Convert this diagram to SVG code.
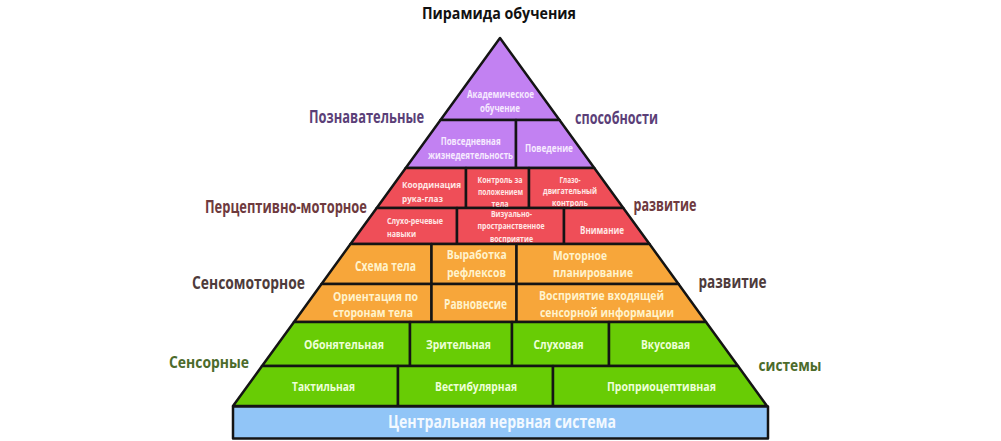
<svg xmlns="http://www.w3.org/2000/svg" width="1001" height="441" viewBox="0 0 1001 441">
<style>
.t{font-family:"Open Sans","Noto Sans","DejaVu Sans",sans-serif;font-weight:700;text-anchor:middle}
.l{text-anchor:start}
.e{text-anchor:end}
.c{stroke:#141414;stroke-width:2.5;stroke-linejoin:round}
.pu{fill:#c281f2}.re{fill:#ef4e58}.or{fill:#f7a63a}.gr{fill:#68cc05}.bl{fill:#91c5f7}
.tpu{fill:#f6eaff}.tre{fill:#ffe8e6}.tor{fill:#fff3cc}.tgr{fill:#edffd8}.tbl{fill:#f3f9ff}
.s1{fill:#5b3f78}.s2{fill:#6e3a3e}.s3{fill:#4e3b3b}.s4{fill:#4c6b2b}
</style>
<rect width="1001" height="441" fill="#ffffff"/>
<g id="title"><text class="t" x="499" y="19" font-size="16" fill="#111" textLength="154" lengthAdjust="spacingAndGlyphs">Пирамида обучения</text></g>
<g id="side-labels">
<text class="t e s1" x="424" y="123" font-size="17" textLength="115" lengthAdjust="spacingAndGlyphs">Познавательные</text>
<text class="t l s1" x="575" y="124" font-size="17" textLength="83" lengthAdjust="spacingAndGlyphs">способности</text>
<text class="t e s2" x="367" y="213" font-size="17" textLength="162" lengthAdjust="spacingAndGlyphs">Перцептивно-моторное</text>
<text class="t l s2" x="633.5" y="211" font-size="17" textLength="63" lengthAdjust="spacingAndGlyphs">развитие</text>
<text class="t e s3" x="305" y="289" font-size="17" textLength="113" lengthAdjust="spacingAndGlyphs">Сенсомоторное</text>
<text class="t l s3" x="698.5" y="288" font-size="17" textLength="68" lengthAdjust="spacingAndGlyphs">развитие</text>
<text class="t e s4" x="249" y="368" font-size="16" textLength="80" lengthAdjust="spacingAndGlyphs">Сенсорные</text>
<text class="t l s4" x="758.5" y="371" font-size="16" textLength="63" lengthAdjust="spacingAndGlyphs">системы</text>
</g>
<g id="n-academic"><polygon class="c pu" points="500,38 440.5,120 559.5,120"/>
<text class="t tpu" x="500.5" y="98" font-size="10" textLength="67" lengthAdjust="spacingAndGlyphs">Академическое</text>
<text class="t tpu" x="500" y="111.5" font-size="10" textLength="40" lengthAdjust="spacingAndGlyphs">обучение</text></g>
<g id="n-daily"><polygon class="c pu" points="440.5,120 516,120 516,168 405.7,168"/>
<text class="t tpu" x="470.7" y="145" font-size="10" textLength="60" lengthAdjust="spacingAndGlyphs">Повседневная</text>
<text class="t tpu" x="470.5" y="158.5" font-size="10" textLength="85" lengthAdjust="spacingAndGlyphs">жизнедеятельность</text></g>
<g id="n-behavior"><polygon class="c pu" points="516,120 559.5,120 594.3,168 516,168"/>
<text class="t tpu" x="549" y="151.5" font-size="10" textLength="48" lengthAdjust="spacingAndGlyphs">Поведение</text></g>
<g id="n-eyehand"><polygon class="c re" points="405.7,168 466,168 466,208 376.7,208"/>
<text class="t tre l" x="402" y="187.5" font-size="9.5" textLength="59" lengthAdjust="spacingAndGlyphs">Координация</text>
<text class="t tre l" x="402" y="202" font-size="9.5" textLength="41" lengthAdjust="spacingAndGlyphs">рука-глаз</text></g>
<g id="n-posture"><polygon class="c re" points="466,168 529,168 529,208 466,208"/>
<text class="t tre" x="500" y="183" font-size="8.5" textLength="45" lengthAdjust="spacingAndGlyphs">Контроль за</text>
<text class="t tre" x="500.5" y="195" font-size="8.5" textLength="45" lengthAdjust="spacingAndGlyphs">положением</text>
<text class="t tre" x="500" y="206.5" font-size="8.5" textLength="17" lengthAdjust="spacingAndGlyphs">тела</text></g>
<g id="n-eyemotor"><polygon class="c re" points="529,168 594.3,168 623.3,208 529,208"/>
<text class="t tre" x="570" y="182.5" font-size="8.5" textLength="21" lengthAdjust="spacingAndGlyphs">Глазо-</text>
<text class="t tre" x="570" y="194.2" font-size="8.5" textLength="54" lengthAdjust="spacingAndGlyphs">двигательный</text>
<text class="t tre" x="570" y="206" font-size="8.5" textLength="36" lengthAdjust="spacingAndGlyphs">контроль</text></g>
<g id="n-auditory-speech"><polygon class="c re" points="376.7,208 457,208 457,244 350.5,244"/>
<text class="t tre l" x="387" y="223.5" font-size="8.5" textLength="56" lengthAdjust="spacingAndGlyphs">Слухо-речевые</text>
<text class="t tre l" x="387" y="237" font-size="8.5" textLength="29" lengthAdjust="spacingAndGlyphs">навыки</text></g>
<g id="n-visuospatial"><polygon class="c re" points="457,208 564,208 564,244 457,244"/>
<text class="t tre" x="511.5" y="216.5" font-size="8.5" textLength="41" lengthAdjust="spacingAndGlyphs">Визуально-</text>
<text class="t tre" x="511" y="229" font-size="8.5" textLength="67" lengthAdjust="spacingAndGlyphs">пространственное</text>
<text class="t tre" x="511.5" y="241.5" font-size="8.5" textLength="43" lengthAdjust="spacingAndGlyphs">восприятие</text></g>
<g id="n-attention"><polygon class="c re" points="564,208 623.3,208 649.5,244 564,244"/>
<text class="t tre" x="602" y="233.5" font-size="10" textLength="44" lengthAdjust="spacingAndGlyphs">Внимание</text></g>
<g id="n-bodyscheme"><polygon class="c or" points="350.5,244 431.5,244 431.5,284 321.5,284"/>
<text class="t tor" x="385.5" y="271" font-size="13.5" textLength="61" lengthAdjust="spacingAndGlyphs">Схема тела</text></g>
<g id="n-reflexes"><polygon class="c or" points="431.5,244 516.5,244 516.5,284 431.5,284"/>
<text class="t tor" x="476.7" y="259" font-size="13" textLength="60" lengthAdjust="spacingAndGlyphs">Выработка</text>
<text class="t tor" x="476.5" y="276.5" font-size="13" textLength="59" lengthAdjust="spacingAndGlyphs">рефлексов</text></g>
<g id="n-motorplan"><polygon class="c or" points="516.5,244 649.5,244 678.5,284 516.5,284"/>
<text class="t tor l" x="553" y="259.5" font-size="13" textLength="54" lengthAdjust="spacingAndGlyphs">Моторное</text>
<text class="t tor l" x="553" y="276.5" font-size="13" textLength="80" lengthAdjust="spacingAndGlyphs">планирование</text></g>
<g id="n-orientation"><polygon class="c or" points="321.5,284 431.5,284 431.5,322 294,322"/>
<text class="t tor l" x="333" y="300.5" font-size="13" textLength="85" lengthAdjust="spacingAndGlyphs">Ориентация по</text>
<text class="t tor l" x="333" y="317" font-size="13" textLength="80" lengthAdjust="spacingAndGlyphs">сторонам тела</text></g>
<g id="n-balance"><polygon class="c or" points="431.5,284 516.5,284 516.5,322 431.5,322"/>
<text class="t tor" x="475.5" y="308.5" font-size="13.5" textLength="63" lengthAdjust="spacingAndGlyphs">Равновесие</text></g>
<g id="n-sensoryinput"><polygon class="c or" points="516.5,284 678.5,284 706,322 516.5,322"/>
<text class="t tor" x="601.5" y="300" font-size="13" textLength="125" lengthAdjust="spacingAndGlyphs">Восприятие входящей</text>
<text class="t tor" x="607" y="317" font-size="13" textLength="134" lengthAdjust="spacingAndGlyphs">сенсорной информации</text></g>
<g id="n-olfactory"><polygon class="c gr" points="294,322 410,322 410,366 262,366"/>
<text class="t tgr" x="344" y="349" font-size="13" textLength="80" lengthAdjust="spacingAndGlyphs">Обонятельная</text></g>
<g id="n-visual"><polygon class="c gr" points="410,322 512,322 512,366 410,366"/>
<text class="t tgr" x="458.5" y="349" font-size="13" textLength="65" lengthAdjust="spacingAndGlyphs">Зрительная</text></g>
<g id="n-auditory"><polygon class="c gr" points="512,322 609,322 609,366 512,366"/>
<text class="t tgr" x="558.5" y="349" font-size="13" textLength="50" lengthAdjust="spacingAndGlyphs">Слуховая</text></g>
<g id="n-gustatory"><polygon class="c gr" points="609,322 706,322 738,366 609,366"/>
<text class="t tgr" x="665.5" y="349" font-size="13" textLength="49" lengthAdjust="spacingAndGlyphs">Вкусовая</text></g>
<g id="n-tactile"><polygon class="c gr" points="262,366 398,366 398,406 233,406"/>
<text class="t tgr" x="323.5" y="391" font-size="13" textLength="63" lengthAdjust="spacingAndGlyphs">Тактильная</text></g>
<g id="n-vestibular"><polygon class="c gr" points="398,366 553,366 553,406 398,406"/>
<text class="t tgr" x="476" y="390.5" font-size="13" textLength="82" lengthAdjust="spacingAndGlyphs">Вестибулярная</text></g>
<g id="n-proprioceptive"><polygon class="c gr" points="553,366 738,366 767,406 553,406"/>
<text class="t tgr" x="661.5" y="390.5" font-size="13" textLength="109" lengthAdjust="spacingAndGlyphs">Проприоцептивная</text></g>
<g id="n-cns"><rect class="c bl" x="233" y="406.5" width="535" height="32"/>
<text class="t tbl" x="502" y="428" font-size="18" textLength="228" lengthAdjust="spacingAndGlyphs">Центральная нервная система</text></g>
<g id="connectors"></g>
</svg>
